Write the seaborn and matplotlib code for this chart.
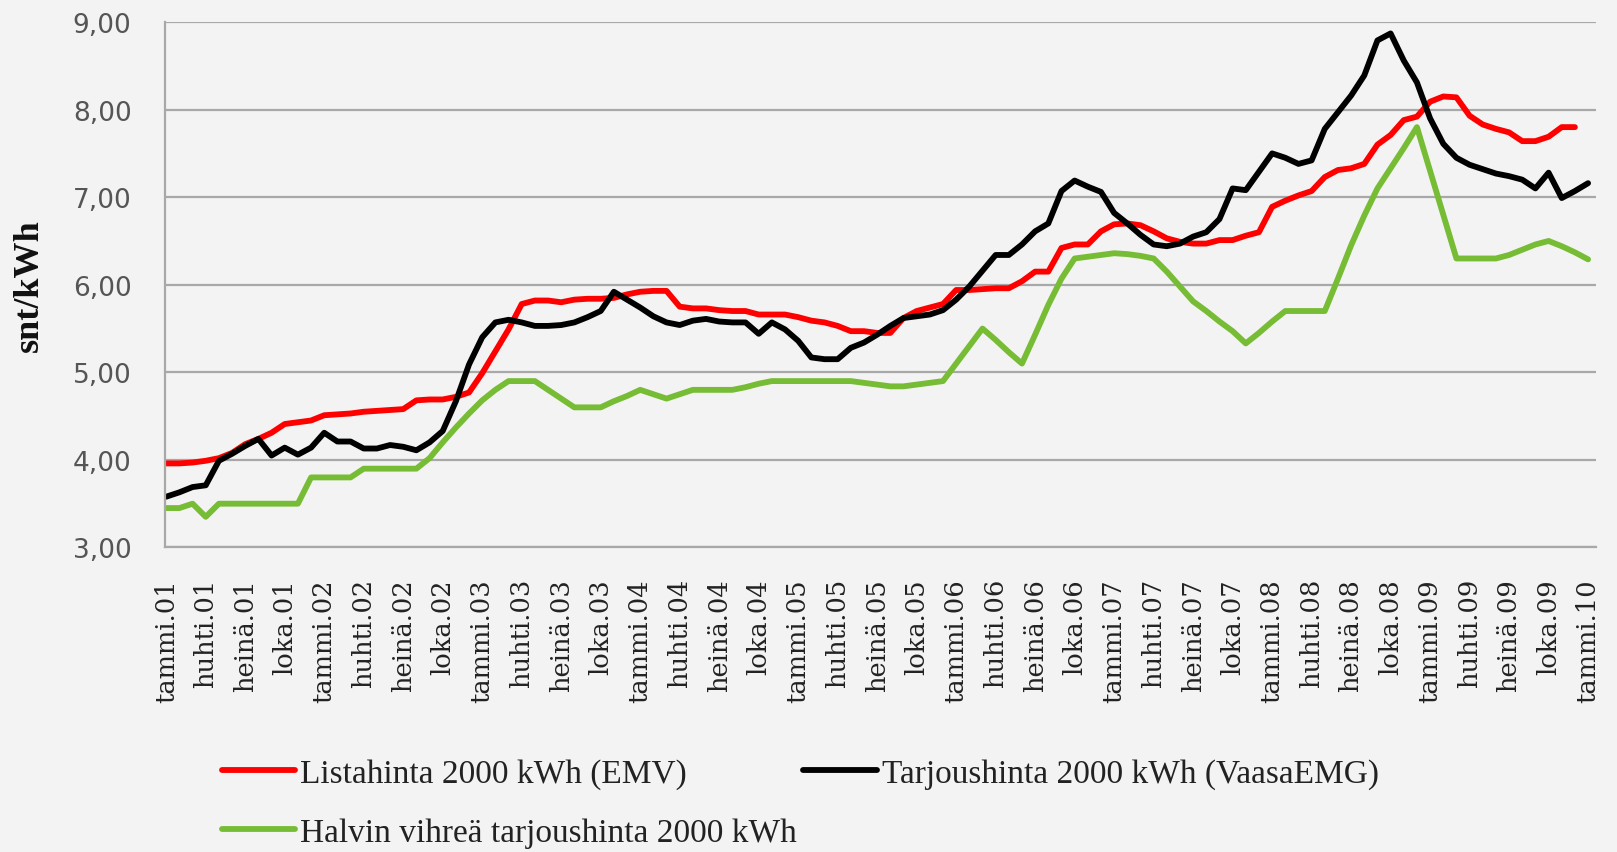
import numpy as np
import pandas as pd
import matplotlib
matplotlib.use("Agg")
import matplotlib.pyplot as plt
import seaborn as sns
from matplotlib.ticker import FixedLocator, FuncFormatter

# ---------------- data ----------------
series_names = [
    "Listahinta 2000 kWh (EMV)",
    "Tarjoushinta 2000 kWh (VaasaEMG)",
    "Halvin vihreä tarjoushinta 2000 kWh",
]

# monthly values, tammi.01 ... (snt/kWh)
listahinta = [
    3.96, 3.96, 3.97, 3.99, 4.02, 4.08, 4.18, 4.24, 4.31, 4.41, 4.43, 4.45,
    4.51, 4.52, 4.53, 4.55, 4.56, 4.57, 4.58, 4.68, 4.69, 4.69, 4.72, 4.77,
    4.99, 5.24, 5.49, 5.78, 5.82, 5.82, 5.80, 5.83, 5.84, 5.84, 5.85, 5.89,
    5.92, 5.93, 5.93, 5.75, 5.73, 5.73, 5.71, 5.70, 5.70, 5.66, 5.66, 5.66,
    5.63, 5.59, 5.57, 5.53, 5.47, 5.47, 5.45, 5.45, 5.62, 5.70, 5.74, 5.78,
    5.94, 5.94, 5.95, 5.96, 5.96, 6.04, 6.15, 6.15, 6.42, 6.46, 6.46, 6.61,
    6.69, 6.70, 6.68, 6.61, 6.53, 6.49, 6.47, 6.47, 6.51, 6.51, 6.56, 6.60,
    6.89, 6.96, 7.02, 7.07, 7.23, 7.31, 7.33, 7.38, 7.60, 7.71, 7.88, 7.92,
    8.09, 8.15, 8.14, 7.93, 7.83, 7.78, 7.74, 7.64, 7.64, 7.69, 7.80, 7.80,
]

tarjoushinta = [
    3.58, 3.63, 3.69, 3.71, 3.99, 4.07, 4.16, 4.24, 4.05, 4.14, 4.06, 4.14,
    4.31, 4.21, 4.21, 4.13, 4.13, 4.17, 4.15, 4.11, 4.20, 4.33, 4.67, 5.09,
    5.40, 5.57, 5.60, 5.57, 5.53, 5.53, 5.54, 5.57, 5.63, 5.70, 5.92, 5.83,
    5.74, 5.64, 5.57, 5.54, 5.59, 5.61, 5.58, 5.57, 5.57, 5.44, 5.57, 5.49,
    5.36, 5.17, 5.15, 5.15, 5.28, 5.34, 5.43, 5.53, 5.62, 5.64, 5.66, 5.71,
    5.83, 5.98, 6.16, 6.34, 6.34, 6.46, 6.61, 6.70, 7.07, 7.19, 7.12, 7.06,
    6.82, 6.70, 6.57, 6.46, 6.44, 6.47, 6.55, 6.60, 6.75, 7.10, 7.08, 7.29,
    7.50, 7.45, 7.38, 7.42, 7.78, 7.97, 8.16, 8.39, 8.79, 8.87, 8.56, 8.31,
    7.90, 7.61, 7.45, 7.37, 7.32, 7.27, 7.24, 7.20, 7.10, 7.28, 6.99, 7.07,
    7.16,
]

vihrea = [
    3.45, 3.45, 3.50, 3.35, 3.50, 3.50, 3.50, 3.50, 3.50, 3.50, 3.50, 3.80,
    3.80, 3.80, 3.80, 3.90, 3.90, 3.90, 3.90, 3.90, 4.02, 4.20, 4.37, 4.53,
    4.68, 4.80, 4.90, 4.90, 4.90, 4.80, 4.70, 4.60, 4.60, 4.60, 4.67, 4.73,
    4.80, 4.75, 4.70, 4.75, 4.80, 4.80, 4.80, 4.80, 4.83, 4.87, 4.90, 4.90,
    4.90, 4.90, 4.90, 4.90, 4.90, 4.88, 4.86, 4.84, 4.84, 4.86, 4.88, 4.90,
    5.10, 5.30, 5.50, 5.37, 5.23, 5.10, 5.43, 5.77, 6.07, 6.30, 6.32, 6.34,
    6.36, 6.35, 6.33, 6.30, 6.15, 5.98, 5.81, 5.70, 5.58, 5.47, 5.33, 5.45,
    5.58, 5.70, 5.70, 5.70, 5.70, 6.07, 6.45, 6.79, 7.10, 7.33, 7.56, 7.80,
    7.30, 6.80, 6.30, 6.30, 6.30, 6.30, 6.34, 6.40, 6.46, 6.50, 6.44, 6.37,
    6.29,
]

tick_labels = [
    "tammi.01", "huhti.01", "heinä.01", "loka.01",
    "tammi.02", "huhti.02", "heinä.02", "loka.02",
    "tammi.03", "huhti.03", "heinä.03", "loka.03",
    "tammi.04", "huhti.04", "heinä.04", "loka.04",
    "tammi.05", "huhti.05", "heinä.05", "loka.05",
    "tammi.06", "huhti.06", "heinä.06", "loka.06",
    "tammi.07", "huhti.07", "heinä.07", "loka.07",
    "tammi.08", "huhti.08", "heinä.08", "loka.08",
    "tammi.09", "huhti.09", "heinä.09", "loka.09",
    "tammi.10",
]
y_ticks = [3, 4, 5, 6, 7, 8, 9]
y_label = "snt/kWh"

colors = {
    series_names[0]: "#ff0000",
    series_names[1]: "#000000",
    series_names[2]: "#77bc35",
}

# ---------------- long-form table ----------------
frames = []
for name, vals in zip(series_names, [listahinta, tarjoushinta, vihrea]):
    frames.append(pd.DataFrame({"kk": np.arange(len(vals)), "hinta": vals, "sarja": name}))
df = pd.concat(frames, ignore_index=True)

# ---------------- figure ----------------
sns.set_style("white")
bg = "#f4f3f3"
fig = plt.figure(figsize=(16.17, 8.53), dpi=100, facecolor=bg)
ax = fig.add_axes([0.102, 0.357, 0.885, 0.616])
ax.set_facecolor("none")

sns.lineplot(
    data=df, x="kk", y="hinta", hue="sarja", hue_order=series_names,
    palette=colors, linewidth=4.2, ax=ax, legend=False,
    solid_joinstyle="round", solid_capstyle="round",
)

ax.set_xlim(-0.1, 108.6)
ax.set_ylim(3, 9)
ax.yaxis.set_major_locator(FixedLocator(y_ticks))
ax.yaxis.set_major_formatter(FuncFormatter(lambda v, p: f"{v:.2f}".replace(".", ",")))
tick_pos = list(range(0, 3 * len(tick_labels), 3))
ax.xaxis.set_major_locator(FixedLocator(tick_pos))
ax.set_xticklabels(tick_labels, rotation=90, va="top", ha="center")

ax.yaxis.grid(True, color="#a8a8a8", linewidth=1.6)
ax.xaxis.grid(False)
ax.set_axisbelow(True)
for s in ["top", "right"]:
    ax.spines[s].set_visible(False)
for s in ["left", "bottom"]:
    ax.spines[s].set_color("#a8a8a8")
    ax.spines[s].set_linewidth(1.6)

ax.tick_params(axis="x", length=0, pad=22, labelsize=18.5, labelcolor="#222222")
ax.tick_params(axis="y", length=0, pad=24, labelsize=19, labelcolor="#555555")
for lab in ax.get_xticklabels():
    lab.set_fontfamily("DejaVu Serif")
for lab in ax.get_yticklabels():
    lab.set_fontfamily("DejaVu Sans")

ax.set_xlabel("")
ax.set_ylabel(y_label, fontsize=26, fontweight="bold", family="Liberation Serif", color="#111111")
ax.yaxis.set_label_coords(-0.083, 0.5)

lines = ax.get_lines()
handles = [lines[0], lines[2], lines[1]]
labels = [series_names[0], series_names[2], series_names[1]]
leg = fig.legend(
    handles, labels, ncol=2, loc="upper left",
    frameon=False, prop={"family": "Liberation Serif", "size": 24},
    handlelength=2.2, handletextpad=0.15, columnspacing=0.2, labelspacing=0.85,
    borderaxespad=0, borderpad=0,
)
leg.set_bbox_to_anchor((0.137, 0.110), transform=fig.transFigure)
for t in leg.get_texts():
    t.set_color("#222222")

fig.savefig("out.png", dpi=100, facecolor=bg)
